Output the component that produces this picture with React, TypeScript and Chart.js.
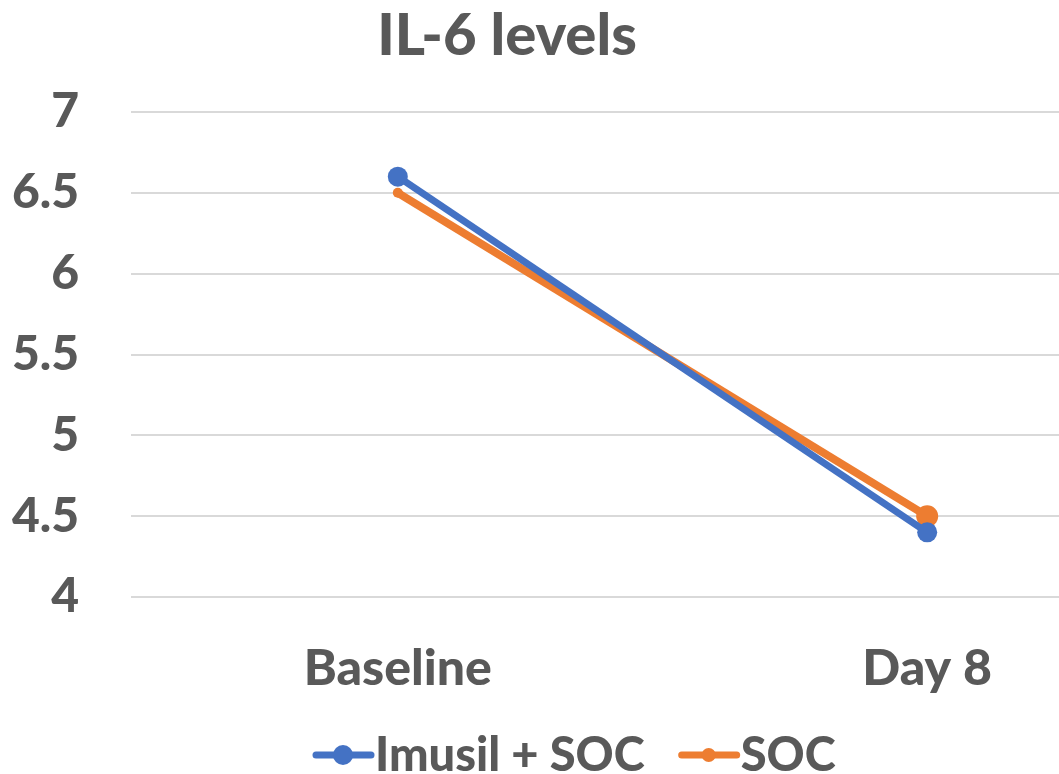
import React, { useEffect, useRef } from "react";
import { Chart, registerables } from "chart.js";

Chart.register(...registerables);

const categories = ["Baseline", "Day 8"];
const imusilSoc = [6.6, 4.4];
const soc = [6.5, 4.5];
const seriesNames = ["Imusil + SOC", "SOC"];
const yTicks = [4, 4.5, 5, 5.5, 6, 6.5, 7];
const titleText = "IL-6 levels";

const BLUE = "#4472C4";
const ORANGE = "#ED7D31";
const GRAY = "#595959";
const FONT = "Lato, 'Open Sans', sans-serif";

const overlayPlugin = {
  id: "overlay",
  afterDraw(chart: any) {
    const ctx = chart.ctx;
    ctx.save();
    // title
    ctx.fillStyle = GRAY;
    ctx.font = `900 58px ${FONT}`;
    ctx.textAlign = "center";
    ctx.textBaseline = "middle";
    ctx.fillText(titleText, 507, 36);
    // legend
    ctx.font = `900 47px ${FONT}`;
    ctx.textAlign = "left";
    const y = 755;
    let x = 313;
    chart.data.datasets.forEach((ds: any, i: number) => {
      ctx.strokeStyle = ds.borderColor;
      ctx.lineWidth = 7;
      ctx.lineCap = "round";
      ctx.beginPath();
      ctx.moveTo(x + 3, y);
      ctx.lineTo(x + 58, y);
      ctx.stroke();
      ctx.fillStyle = ds.borderColor;
      ctx.beginPath();
      ctx.arc(x + 30, y, i === 0 ? 10 : 7, 0, Math.PI * 2);
      ctx.fill();
      ctx.fillStyle = GRAY;
      ctx.fillText(ds.label, x + 62, y + 1);
      const w = ctx.measureText(ds.label).width;
      x = x + 62 + w + 34;
    });
    ctx.restore();
  },
};

export default function App() {
  const ref = useRef<HTMLCanvasElement | null>(null);
  useEffect(() => {
    if (!ref.current) return;
    const chart = new Chart(ref.current, {
      type: "line",
      data: {
        datasets: [
          {
            label: seriesNames[0],
            data: imusilSoc.map((v, i) => ({ x: i, y: v })),
            borderColor: BLUE,
            backgroundColor: BLUE,
            borderWidth: 7,
            pointRadius: 10,
            pointBorderWidth: 0,
            pointBackgroundColor: BLUE,
          },
          {
            label: seriesNames[1],
            data: soc.map((v, i) => ({ x: i, y: v })),
            borderColor: ORANGE,
            backgroundColor: ORANGE,
            borderWidth: 8,
            pointRadius: [5, 11],
            pointBorderWidth: 0,
            pointBackgroundColor: ORANGE,
          },
        ],
      },
      options: {
        animation: false,
        responsive: false,
        maintainAspectRatio: false,
        layout: { autoPadding: false, padding: { top: 112, bottom: 77, left: 0, right: 0 } },
        plugins: { legend: { display: false }, title: { display: false }, tooltip: { enabled: false } },
        scales: {
          x: {
            type: "linear",
            min: -0.504,
            max: 1.249,
            afterBuildTicks: (axis: any) => {
              axis.ticks = categories.map((_, i) => ({ value: i }));
            },
            afterFit: (axis: any) => {
              axis.height = 100;
              axis.paddingLeft = 0;
              axis.paddingRight = 0;
            },
            grid: { display: false },
            border: { display: false },
            ticks: {
              autoSkip: false,
              maxRotation: 0,
              padding: 34,
              color: GRAY,
              font: { family: FONT, size: 50, weight: "900" },
              callback: (v: any) => categories[v as number] ?? "",
            },
          },
          y: {
            min: 4,
            max: 7,
            afterBuildTicks: (axis: any) => {
              axis.ticks = yTicks.map((v) => ({ value: v }));
            },
            afterFit: (axis: any) => {
              axis.width = 131;
            },
            grid: { color: "#d9d9d9", lineWidth: 2, drawTicks: false },
            border: { display: false },
            ticks: {
              padding: 52,
              color: GRAY,
              font: { family: FONT, size: 48, weight: "900" },
              callback: (v: any) => String(v),
            },
          },
        },
      },
      plugins: [overlayPlugin],
    } as any);
    return () => chart.destroy();
  }, []);
  return (
    <div style={{ position: "absolute", left: 0, top: 0, width: 1059, height: 774, background: "#fff" }}>
      <canvas ref={ref} width={1059} height={774} style={{ display: "block" }} />
    </div>
  );
}
